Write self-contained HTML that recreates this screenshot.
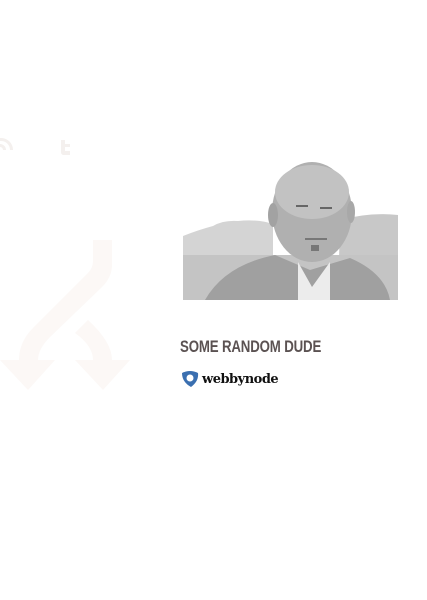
<!DOCTYPE html>
<html><head><meta charset="utf-8"><style>
html,body{margin:0;padding:0;background:#fff;width:427px;height:600px;overflow:hidden;font-family:"Liberation Sans",sans-serif}
.name{position:absolute;left:180px;top:337px;font-size:17px;font-weight:bold;color:#5b5252;transform:scaleX(0.78);transform-origin:left top;white-space:nowrap;letter-spacing:-0.2px}
.logo{position:absolute;left:180px;top:369px;display:flex;align-items:center}
.logo span{font-family:"DejaVu Serif","Liberation Serif",serif;font-weight:bold;font-size:13px;color:#111;margin-left:2px;letter-spacing:-0.5px}
</style></head><body>
<svg width="427" height="600" style="position:absolute;left:0;top:0">
  <g fill="#fcf8f6">
    <path d="M93,240 h19 v25 q0,12 -10,22 l-52,50 q-12,12 -12,23 h17 l-27,30 l-28,-30 h19 q0,-18 14,-32 l55,-55 q5,-5 5,-12z"/>
    <path d="M75,333 l13,-13 q24,22 24,40 h18 l-27,30 l-28,-30 h18 q0,-14 -18,-27z"/>
  </g>
  <g fill="#f4f0ee">
    <path d="M0,138 a12,12 0 0 1 13,12 h-3 a9,9 0 0 0 -10,-9z M0,144 a6,6 0 0 1 6,6 h-3 a3,3 0 0 0 -3,-3z"/>
    <path d="M61,140 h4 v4 h5 v3 h-5 v4 h5 v4 h-6 q-3,0 -3,-3z"/>
  </g>
  <g>
    <path d="M183,236 q15,-6 30,-10 q10,-6 25,-5 q20,-2 35,3 l0,76 h-90z" fill="#d4d4d4"/>
    <path d="M340,220 q30,-8 58,-5 v85 h-60z" fill="#c8c8c8"/>
    <rect x="183" y="255" width="215" height="45" fill="#c4c4c4"/>
    <ellipse cx="312" cy="212" rx="40" ry="50" fill="#b0b0b0"/>
    <ellipse cx="312" cy="192" rx="37" ry="27" fill="#c2c2c2"/>
    <ellipse cx="273" cy="215" rx="5" ry="12" fill="#a2a2a2"/>
    <ellipse cx="351" cy="212" rx="4" ry="11" fill="#a8a8a8"/>
    <rect x="296" y="205" width="12" height="2" fill="#666"/>
    <rect x="320" y="207" width="12" height="2" fill="#666"/>
    <rect x="305" y="238" width="22" height="2" fill="#777"/>
    <rect x="311" y="245" width="8" height="6" fill="#777"/>
    <path d="M205,300 q20,-35 70,-45 l35,15 l40,-12 q35,15 40,42z" fill="#a0a0a0"/>
    <path d="M298,262 l14,25 l18,-25 v38 h-32z" fill="#ececec"/>
  </g>
</svg>
<div class="name">SOME RANDOM DUDE</div>
<div class="logo">
  <svg width="20" height="20" viewBox="0 0 20 20"><path d="M2,4 q8,-4 16,0 q1,8 -7,14 q-9,-5 -9,-14z" fill="#3a6fb0"/><circle cx="10" cy="9" r="3.5" fill="#fff"/></svg>
  <span>webbynode</span>
</div>
</body></html>
